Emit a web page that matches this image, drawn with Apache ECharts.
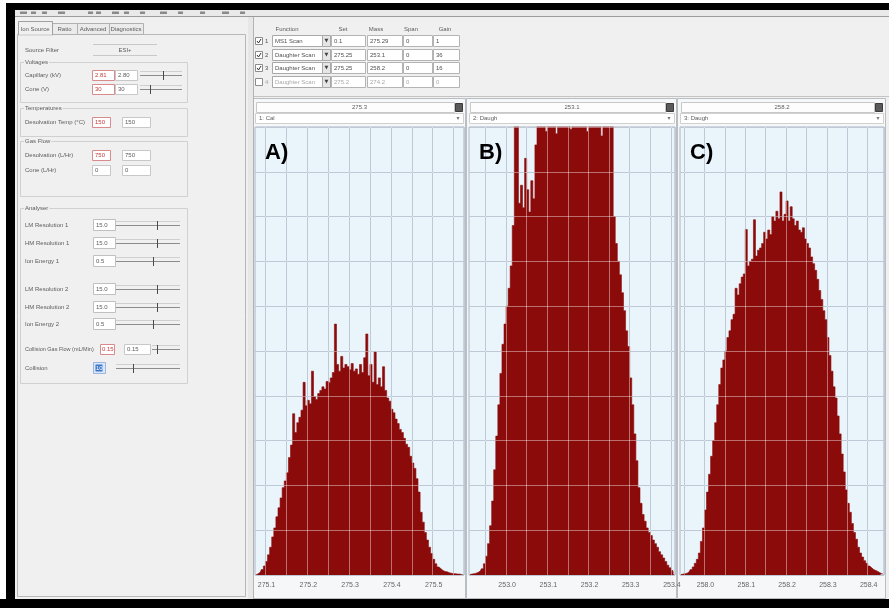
<!DOCTYPE html>
<html><head><meta charset="utf-8">
<script src="https://cdn.jsdelivr.net/npm/echarts@6/dist/echarts.min.js"></script>
<style>html,body{margin:0;padding:0;background:#f0f0f0}#c{width:889px;height:608px}</style>
</head><body><div id="c"></div>
<script>
// ---------- DATA (counts scaled 0..1000 = full panel height) ----------
const histA = [
  0,3,6,12,20,30,45,62,85,105,
  130,150,172,195,210,228,262,290,360,318,
  340,352,368,430,378,390,382,455,398,392,
  405,412,420,415,432,428,440,452,560,470,
  455,488,462,470,465,458,472,455,460,448,
  470,452,485,538,445,470,430,498,425,440,
  420,465,412,395,388,370,362,348,338,325,
  318,305,292,285,265,250,238,215,185,140,
  118,95,78,62,48,35,25,18,14,10,
  8,7,5,4,3,3,2,2,1,1];
const histB = [
  1,2,3,4,6,9,14,25,42,70,
  110,165,235,310,380,450,515,560,600,640,
  690,780,1100,1100,830,870,820,930,860,810,
  880,840,960,1100,1050,1100,1080,990,1100,1100,
  1060,1100,985,1100,1100,1100,1070,1100,1100,995,
  1100,1100,1100,1080,1100,1100,1100,990,1100,1100,
  1100,1060,1100,1100,980,1100,1100,1100,1050,1020,
  800,740,700,670,630,590,545,510,440,380,
  315,255,195,160,135,120,105,95,88,78,
  70,62,52,45,38,30,22,16,10,5];
const histC = [
  1,2,3,4,7,12,18,26,35,49,
  75,105,145,185,225,265,300,340,380,425,
  462,480,500,530,545,570,582,640,625,650,
  665,672,771,690,700,705,793,712,725,730,
  740,765,750,770,760,800,790,812,795,855,
  790,805,835,790,822,795,780,790,770,765,
  775,750,740,730,710,695,680,660,635,615,
  590,570,530,490,455,420,395,355,315,270,
  230,190,160,140,115,95,80,62,49,40,
  32,26,20,16,12,10,8,5,3,2];
const tickLabelsA = ['275.1','275.2','275.3','275.4','275.5'];
const tickLabelsB = ['253.0','253.1','253.2','253.3','253.4'];
const tickLabelsC = ['258.0','258.1','258.2','258.3','258.4'];
const panelTitles = ['275.3','253.1','258.2'];
const panelFunctions = ['1: Cal','2: Daugh','3: Daugh'];
const panelLetters = ['A)','B)','C)'];
// tune-page table
const tableHeaders = ['Function','Set','Mass','Span','Gain'];
const tableFunctions = ['MS1 Scan','Daughter Scan','Daughter Scan','Daughter Scan'];
const tableSet = ['0.1','275.25','275.25','275.2'];
const tableMass = ['275.29','253.1','258.2','274.2'];
const tableSpan = ['0','0','0','0'];
const tableGain = ['1','36','16','0'];
// left tune panel
const tabNames = ['Ion Source','Ratio','Advanced','Diagnostics'];
const groupNames = ['Voltages','Temperatures','Gas Flow','Analyser'];
const sourceRows = [['Capillary (kV)','2.81','2.80'],['Cone (V)','30','30'],
  ['Desolvation Temp (°C)','150','150'],['Desolvation (L/Hr)','750','750'],['Cone (L/Hr)','0','0']];
const analyserRows = [['LM Resolution 1','15.0'],['HM Resolution 1','15.0'],['Ion Energy 1','0.5'],
  ['LM Resolution 2','15.0'],['HM Resolution 2','15.0'],['Ion Energy 2','0.5']];
const collisionRows = [['Collision Gas Flow (mL/Min)','0.15','0.15'],['Collision','10']];

// ---------- layout ----------
const panels = [
  {left:255, width:209, data:histA, ticks:tickLabelsA, gridOff:5, labOff:5},
  {left:469, width:206, data:histB, ticks:tickLabelsB, gridOff:8, labOff:18},
  {left:680, width:204, data:histC, ticks:tickLabelsC, gridOff:2, labOff:12}
];
const TOP = 127, H = 448;
const FONT = '6px "Liberation Sans Narrow", "Liberation Sans", Arial, sans-serif';

const G = [];
const R = (x,y,w,h,fill,stroke,z=1) => G.push({type:'rect',silent:true,z,shape:{x,y,width:w,height:h},style:{fill:fill||'none',stroke:stroke||'none',lineWidth:1}});
const T = (x,y,text,o={}) => { const st={text,fill:o.c||'#5c5c5c',font:o.f||FONT,align:o.a||'left',verticalAlign:'middle'}; if(o.bg){st.backgroundColor=o.bg;st.padding=[0,1];} G.push({type:'text',silent:true,z:o.z??3,x,y,style:st}); };
const L = (x1,y1,x2,y2,c='#a8a8a8',z=1) => G.push({type:'line',silent:true,z,shape:{x1,y1,x2,y2},style:{stroke:c,lineWidth:1}});
const S = (x1,x2,y,th) => { L(x1,y-3.5,x2,y-3.5,'#cfcfcf'); L(x1,y+0.5,x2,y+0.5,'#8c8c8c'); L(th+0.5,y-4,th+0.5,y+5,'#4a4a4a'); };

// toolbar strip
R(15,10,874,6,'#e9e9e9',null,0); L(15,16.5,889,16.5,'#9c9c9c');
[20,31,42,58,88,96,112,124,140,160,178,200,222,240].forEach((x,i)=>R(x,11.5,i%3?5:7,2.5,'#8a8a8a',null,1));
// left panel
R(15,17,233,582,'#f0f0f0',null,0);
R(248,17,5,582,'#e7e7e7',null,0); L(253.5,17,253.5,599,'#b3b3b3');
R(17.5,34.5,228,562,'none','#b8b8b8');
const tabX=[18,52,77,109], tabW=[34,25,32,34];
tabNames.forEach((n,i)=>{
  if(i===0){R(tabX[i]+0.5,21.5,tabW[i],13.5,'#f0f0f0','#a0a0a0',2); L(tabX[i]+1,35,tabX[i]+tabW[i],35,'#f0f0f0',2);}
  else R(tabX[i]+0.5,23.5,tabW[i],11,'#ebebeb','#b0b0b0');
  T(tabX[i]+tabW[i]/2,29,n,{a:'center'});
});
T(25,50,'Source Filter'); L(93,44.5,157,44.5,'#c8c8c8'); L(93,55.5,157,55.5,'#c8c8c8'); T(125,50,'ESI+',{a:'center'});
const grpY=[62,108,141,208], grpH=[40,28,55,175];
groupNames.forEach((g,i)=>{R(20.5,grpY[i]+0.5,167,grpH[i],'none','#d0d0d0'); T(24,grpY[i]+0.5,g,{bg:'#f0f0f0'});});
const srcY=[75,89,122,155,170];
sourceRows.forEach((r,i)=>{
  const y=srcY[i]; T(25,y,r[0]);
  const wide=i>=2;
  R(92.5,y-4.5,wide?18:22,10,'#fff',i<4?'#d98a8a':'#c8c8c8'); T(95,y,r[1],{c:i<4?'#c43a3a':'#5c5c5c'});
  R(wide?122.5:115.5,y-4.5,wide?28:22,10,'#fff','#c8c8c8'); T(wide?125:118,y,r[2]);
  if(i<2) S(140,182,y,i===0?163:150);
});
const anY=[225,243,261,289,307,324];
analyserRows.forEach((r,i)=>{const y=anY[i]; T(25,y,r[0]); R(93.5,y-5.5,22,11,'#fff','#c0c0c0'); T(96,y,r[1]); S(116,180,y,r[0].startsWith('Ion')?153:157);});
T(25,349,collisionRows[0][0],{f:'5.5px "Liberation Sans Narrow", "Liberation Sans", Arial, sans-serif'}); R(100.5,344.5,14,10,'#fff','#d98a8a'); T(102,349,collisionRows[0][1],{c:'#c43a3a'});
R(124.5,344.5,26,10,'#fff','#c8c8c8'); T(127,349,collisionRows[0][2]); S(152,180,349,157);
T(25,368,collisionRows[1][0]); R(93.5,362.5,12,11,'#dbe8fb','#9cb6e0'); R(95.5,364.5,7,7,'#3d76c8',null,2); T(96,368,collisionRows[1][1],{c:'#fff'}); S(116,180,368,133);

// top table area
R(254,17,635,80,'#f0f0f0',null,0);
const colX=[287,343,376,411,445];
tableHeaders.forEach((h,i)=>T(colX[i],29,h,{a:'center'}));
const rowY=[41,55,68,82];
tableFunctions.forEach((f,i)=>{
  const y=rowY[i], c=i===3?'#a8a8a8':'#505050';
  R(255.5,y-3.5,7,7,'#fff','#8c8c8c'); if(i<3){L(257,y,258.5,y+2,'#333',2);L(258.5,y+2,261,y-2,'#333',2);}
  T(265,y,String(i+1),{c});
  R(272.5,y-5.5,50,11,'#fff','#a9a9a9'); T(275,y,f,{c});
  R(322.5,y-5.5,8,11,'#e6e6e6','#a9a9a9'); T(326.5,y,'▼',{a:'center',f:'5px "DejaVu Sans"',c:'#444'});
  R(331.5,y-5.5,34,11,'#fff','#b4b4b4'); T(334,y,tableSet[i],{c});
  R(367.5,y-5.5,35,11,'#fff','#b4b4b4'); T(370,y,tableMass[i],{c});
  R(403.5,y-5.5,29,11,'#fff','#b4b4b4'); T(406,y,tableSpan[i],{c});
  R(433.5,y-5.5,26,11,'#fff','#b4b4b4'); T(436,y,tableGain[i],{c});
});
L(254,96.5,889,96.5,'#c4c4c4');

// panel chrome
panels.forEach((p,i)=>{
  R(p.left-2.5,98.5,p.width+4,500,'#f5f7f9','#b9bec4',-5);
  R(p.left+1.5,102.5,p.width-11,10,'#fdfdfd','#c8c8c8');
  T(p.left+p.width/2,107.5,panelTitles[i],{a:'center'});
  R(p.left+p.width-8.5,103.5,7,8,'#5a5a5a','#3c3c3c');
  R(p.left+0.5,113.5,p.width-1,10,'#ffffff','#d0d0d0');
  T(p.left+4,118.5,panelFunctions[i]);
  T(p.left+p.width-6,118.5,'▾',{a:'center',f:'6px "DejaVu Sans"',c:'#777'});
  T(p.left+10,153,panelLetters[i],{f:'bold 22px "Liberation Sans", Arial, sans-serif',c:'#000',z:50});
});
// outer black frame
R(0,0,889,3,'#ffffff',null,100); R(0,3,889,7,'#000',null,100);
R(0,0,6,608,'#ffffff',null,100); R(6,3,9,605,'#000',null,100);
R(0,599,889,9,'#000',null,100);

// ---------- chart ----------
const grids=[], xAxes=[], yAxes=[], series=[];
const mod=(a,n)=>((a%n)+n)%n;
panels.forEach((p,i)=>{
  grids.push({left:p.left,top:TOP,width:p.width,height:H,show:true,backgroundColor:'#eaf4fb',borderColor:'#aab5c3',borderWidth:1});
  const cats=p.data.map((_,k)=>String(k));
  const splitInt=(k)=>mod(k-p.gridOff,10)===0;
  xAxes.push({type:'category',gridIndex:i,data:cats,boundaryGap:true,z:1,
    axisLine:{show:false},axisTick:{show:false},
    splitLine:{show:true,interval:splitInt,lineStyle:{color:'#92a2b7',width:1}},
    axisLabel:{show:true,interval:(k)=>k>=p.labOff&&mod(k-p.labOff,20)===0,
      formatter:(v,k)=>p.ticks[Math.round((k-p.labOff)/20)]||'',fontSize:7,color:'#666',margin:7,
      fontFamily:'Liberation Sans'}});
  xAxes.push({type:'category',gridIndex:i,data:cats,boundaryGap:true,z:5,position:'bottom',
    axisLine:{show:false},axisTick:{show:false},axisLabel:{show:false},
    splitLine:{show:true,interval:splitInt,lineStyle:{color:'rgba(255,255,255,0.42)',width:1}}});
  const ya={type:'value',gridIndex:i,min:0,max:1000,interval:100,axisLine:{show:false},axisTick:{show:false},axisLabel:{show:false}};
  yAxes.push(Object.assign({},ya,{z:1,splitLine:{lineStyle:{color:'#92a2b7',width:1}}}));
  yAxes.push(Object.assign({},ya,{z:5,splitLine:{lineStyle:{color:'rgba(255,255,255,0.42)',width:1}}}));
  series.push({type:'line',xAxisIndex:i*2,yAxisIndex:i*2,data:p.data,step:'middle',symbol:'none',clip:true,z:2,silent:true,
    lineStyle:{color:'#8b0a0a',width:0.6},areaStyle:{color:'#8b0a0a',opacity:1}});
});

const chart=echarts.init(document.getElementById('c'),null,{renderer:'canvas'});
chart.setOption({backgroundColor:'#f0f0f0',animation:false,grid:grids,xAxis:xAxes,yAxis:yAxes,series,graphic:{elements:G}});
</script></body></html>
